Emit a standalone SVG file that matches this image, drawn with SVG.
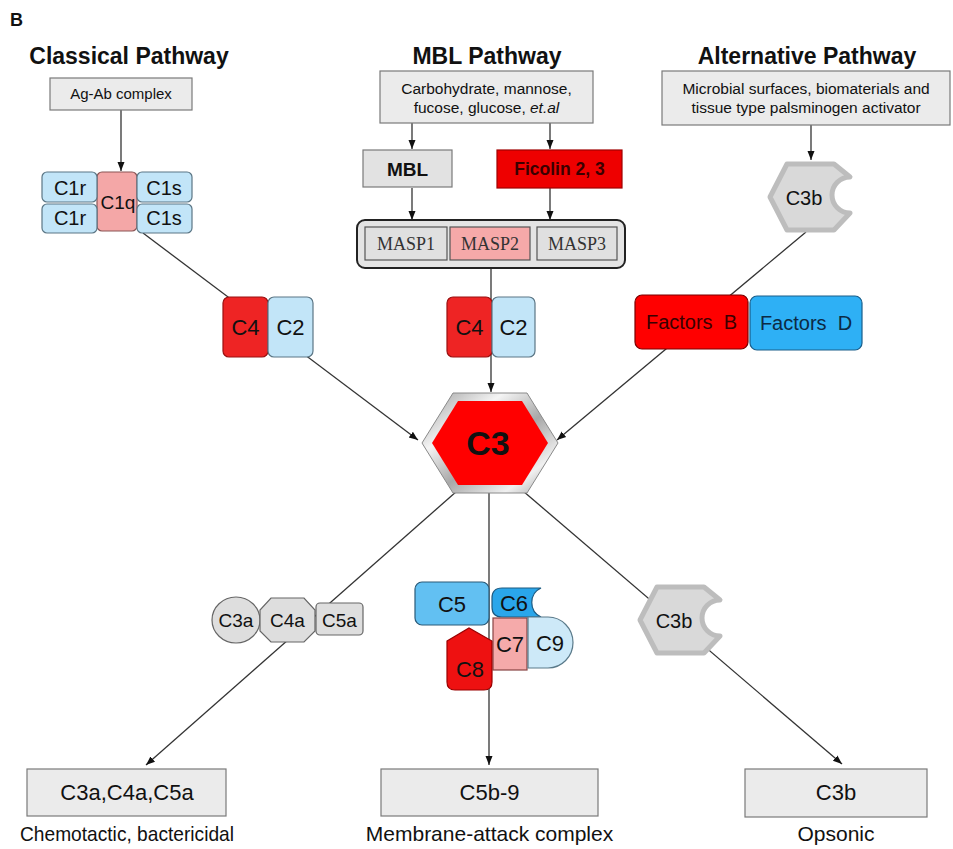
<svg xmlns="http://www.w3.org/2000/svg" width="953" height="849" viewBox="0 0 953 849">
<style>
text{font-family:"Liberation Sans",Arial,sans-serif;fill:#111;text-anchor:middle}
.title{font-size:23px;font-weight:bold}
.gbox{fill:#ebebeb;stroke:#7a7a7a;stroke-width:1.2}
.blue{fill:#c2e5f8;stroke:#5b7685;stroke-width:1.2}
.pink{fill:#f4a7a7;stroke:#8a5555;stroke-width:1.2}
.red{fill:#ee2424;stroke:#9a1010;stroke-width:1.2}
.gray{fill:#dedede;stroke:#666;stroke-width:1.2}
.c3b{fill:#d9d9d9;stroke:#bdbdbd;stroke-width:5;stroke-linejoin:round}
.conn{stroke:#333;stroke-width:1.3;fill:none}
.serif{font-family:"Liberation Serif","Times New Roman",serif;font-size:18px;fill:#333}
</style>
<defs>
<marker id="arr" markerWidth="10" markerHeight="10" refX="9" refY="5" orient="auto" markerUnits="userSpaceOnUse">
<path d="M0,1.5 L9,5 L0,8.5 Z" fill="#111"/>
</marker>
<linearGradient id="silver" x1="0" y1="0" x2="1" y2="1">
<stop offset="0" stop-color="#9c9c9c"/>
<stop offset="0.3" stop-color="#f4f4f4"/>
<stop offset="0.55" stop-color="#a8a8a8"/>
<stop offset="0.8" stop-color="#f0f0f0"/>
<stop offset="1" stop-color="#9a9a9a"/>
</linearGradient>
<path id="c3bshape" d="M17,0 H64 L80,13 A18,18 0 0 0 80,49 L64,66 H17 L0,33 Z"/>
</defs>
<rect width="953" height="849" fill="#fff"/>
<text x="10" y="26" style="font-size:18px;font-weight:bold;text-anchor:start">B</text>

<g id="connectors">
<line class="conn" x1="121" y1="110" x2="121" y2="171" marker-end="url(#arr)"/>
<line class="conn" x1="412" y1="123" x2="412" y2="149" marker-end="url(#arr)"/>
<line class="conn" x1="550" y1="123" x2="550" y2="149" marker-end="url(#arr)"/>
<line class="conn" x1="412" y1="188" x2="412" y2="220" marker-end="url(#arr)"/>
<line class="conn" x1="550" y1="188" x2="550" y2="220" marker-end="url(#arr)"/>
<line class="conn" x1="811" y1="125" x2="811" y2="160" marker-end="url(#arr)"/>
<line class="conn" x1="143" y1="233" x2="418" y2="440" marker-end="url(#arr)"/>
<line class="conn" x1="491" y1="268" x2="491" y2="392" marker-end="url(#arr)"/>
<line class="conn" x1="806" y1="232" x2="557" y2="440" marker-end="url(#arr)"/>
<line class="conn" x1="457" y1="491" x2="146" y2="765" marker-end="url(#arr)"/>
<line class="conn" x1="489" y1="493" x2="489" y2="765" marker-end="url(#arr)"/>
<line class="conn" x1="523" y1="491" x2="842" y2="764" marker-end="url(#arr)"/>
</g>

<g id="classical-title"><text class="title" x="129" y="64">Classical Pathway</text></g>
<g id="mbl-title"><text class="title" x="487" y="64">MBL Pathway</text></g>
<g id="alt-title"><text class="title" x="807" y="64">Alternative Pathway</text></g>

<g id="agab">
<rect class="gbox" x="50" y="78" width="142" height="32"/>
<text x="121" y="99" style="font-size:15px">Ag-Ab complex</text>
</g>

<g id="c1">
<rect class="pink" x="97" y="172" width="40" height="59" rx="5"/>
<rect class="blue" x="42" y="172" width="55" height="30" rx="5"/>
<rect class="blue" x="42" y="204" width="55" height="29" rx="5"/>
<rect class="blue" x="137" y="172" width="55" height="30" rx="5"/>
<rect class="blue" x="137" y="204" width="55" height="29" rx="5"/>
<text x="70" y="195" style="font-size:20px">C1r</text>
<text x="70" y="225" style="font-size:20px">C1r</text>
<text x="118" y="209" style="font-size:19px">C1q</text>
<text x="164" y="195" style="font-size:20px">C1s</text>
<text x="164" y="225" style="font-size:20px">C1s</text>
</g>

<g id="carb">
<rect class="gbox" x="380" y="71" width="213" height="52"/>
<text x="486.5" y="94" style="font-size:15.5px">Carbohydrate, mannose,</text>
<text x="486.5" y="113" style="font-size:15.5px">fucose, glucose, <tspan font-style="italic">et.al</tspan></text>
</g>

<g id="mbl">
<rect class="gbox" x="363" y="150" width="89" height="37" style="fill:#e2e2e2"/>
<text x="407.5" y="176" style="font-size:19px;font-weight:bold">MBL</text>
</g>

<g id="ficolin">
<rect x="497" y="150" width="125" height="38" fill="#ee0000" stroke="#a00000" stroke-width="1.2"/>
<text x="559.5" y="175" style="font-size:17.5px;font-weight:bold;fill:#3a0000">Ficolin 2, 3</text>
</g>

<g id="masp">
<rect x="357" y="220" width="268" height="48" rx="8" fill="#e4e4e4" stroke="#222" stroke-width="2"/>
<rect x="365" y="227" width="82" height="33" fill="#e0e0e0" stroke="#555" stroke-width="1.2"/>
<rect x="450" y="227" width="80" height="33" fill="#f6a9a9" stroke="#555" stroke-width="1.2"/>
<rect x="537" y="227" width="80" height="33" fill="#e0e0e0" stroke="#555" stroke-width="1.2"/>
<text class="serif" x="406" y="250">MASP1</text>
<text class="serif" x="490" y="250">MASP2</text>
<text class="serif" x="577" y="250">MASP3</text>
</g>

<g id="alt-box">
<rect class="gbox" x="662" y="71" width="288" height="54"/>
<text x="806" y="94" style="font-size:15.5px">Microbial surfaces, biomaterials and</text>
<text x="806" y="113" style="font-size:15.5px">tissue type palsminogen activator</text>
</g>

<g id="c3b-top">
<use href="#c3bshape" class="c3b" transform="translate(770,164)"/>
<text x="804" y="205" style="font-size:20px">C3b</text>
</g>

<g id="c4c2-classical">
<rect class="red" x="223" y="297" width="45" height="60" rx="6"/>
<rect class="blue" x="268" y="297" width="45" height="60" rx="6"/>
<text x="245.5" y="335" style="font-size:22px">C4</text>
<text x="290.5" y="335" style="font-size:22px">C2</text>
</g>

<g id="c4c2-mbl">
<rect class="red" x="447" y="297" width="45" height="60" rx="6"/>
<rect class="blue" x="492" y="297" width="43" height="60" rx="6"/>
<text x="469.5" y="335" style="font-size:22px">C4</text>
<text x="513.5" y="335" style="font-size:22px">C2</text>
</g>

<g id="factors">
<rect x="635" y="295" width="113" height="54" rx="7" fill="#ff0000" stroke="#7a0000" stroke-width="1.2"/>
<rect x="750" y="296" width="112" height="54" rx="7" fill="#2eb0f5" stroke="#1a5e8a" stroke-width="1.2"/>
<text x="691.5" y="329" style="font-size:20px;fill:#3a0000;white-space:pre">Factors  B</text>
<text x="806" y="330" style="font-size:20px;fill:#0c2a44;white-space:pre">Factors  D</text>
</g>

<g id="c3">
<polygon points="422,443 453,393 527,393 558,443 527,493 453,493" fill="url(#silver)" stroke="#8a8a8a" stroke-width="1"/>
<polygon points="432,443 458,401 522,401 548,443 522,485 458,485" fill="#ff0000"/>
<text x="488" y="455" style="font-size:34px;font-weight:bold">C3</text>
</g>

<g id="anaphylatoxins">
<ellipse class="gray" cx="236" cy="620" rx="24" ry="23"/>
<polygon class="gray" points="271,598 304,598 315,610 315,631 304,642 271,642 260,631 260,610"/>
<rect class="gray" x="316" y="603" width="47" height="32" rx="4"/>
<text x="236" y="627" style="font-size:19px">C3a</text>
<text x="287.5" y="627" style="font-size:19px">C4a</text>
<text x="339.5" y="627" style="font-size:19px">C5a</text>
</g>

<g id="mac">
<rect x="415" y="582" width="74" height="43" rx="7" fill="#62c0f2" stroke="#2a5a78" stroke-width="1.2"/>
<path d="M502,588 H541 A16,16 0 0 0 541,617 H502 Q492,617 492,607 V598 Q492,588 502,588 Z" fill="#2aa6ea" stroke="#1d5a80" stroke-width="1.2"/>
<rect x="493" y="618" width="34" height="52" fill="#f5aaaa" stroke="#884444" stroke-width="1.2"/>
<path d="M528,617 H548 A25,25.5 0 0 1 548,668 H528 Z" fill="#cde9f8" stroke="#5a7a8a" stroke-width="1.2"/>
<path d="M447,641 L469,628 L492,641 V682 Q492,690 484,690 H455 Q447,690 447,682 Z" fill="#ee1111" stroke="#900" stroke-width="1.2"/>
<text x="452" y="612" style="font-size:22px">C5</text>
<text x="514" y="611" style="font-size:22px">C6</text>
<text x="510" y="652" style="font-size:22px">C7</text>
<text x="550" y="651" style="font-size:22px">C9</text>
<text x="470" y="677" style="font-size:22px">C8</text>
</g>

<g id="c3b-bottom">
<use href="#c3bshape" class="c3b" transform="translate(640,587)"/>
<text x="674" y="628" style="font-size:20px">C3b</text>
</g>

<g id="out-chemotactic">
<rect class="gbox" x="27" y="769" width="199" height="47"/>
<text x="127" y="800" style="font-size:22px">C3a,C4a,C5a</text>
<text x="127" y="841" style="font-size:21px" textLength="214" lengthAdjust="spacingAndGlyphs">Chemotactic, bactericidal</text>
</g>

<g id="out-mac">
<rect class="gbox" x="381" y="769" width="217" height="47"/>
<text x="489.5" y="800" style="font-size:22px">C5b-9</text>
<text x="489.5" y="841" style="font-size:21px">Membrane-attack complex</text>
</g>

<g id="out-opsonic">
<rect class="gbox" x="745" y="769" width="182" height="48"/>
<text x="836" y="800" style="font-size:22px">C3b</text>
<text x="836" y="841" style="font-size:21px">Opsonic</text>
</g>
</svg>
